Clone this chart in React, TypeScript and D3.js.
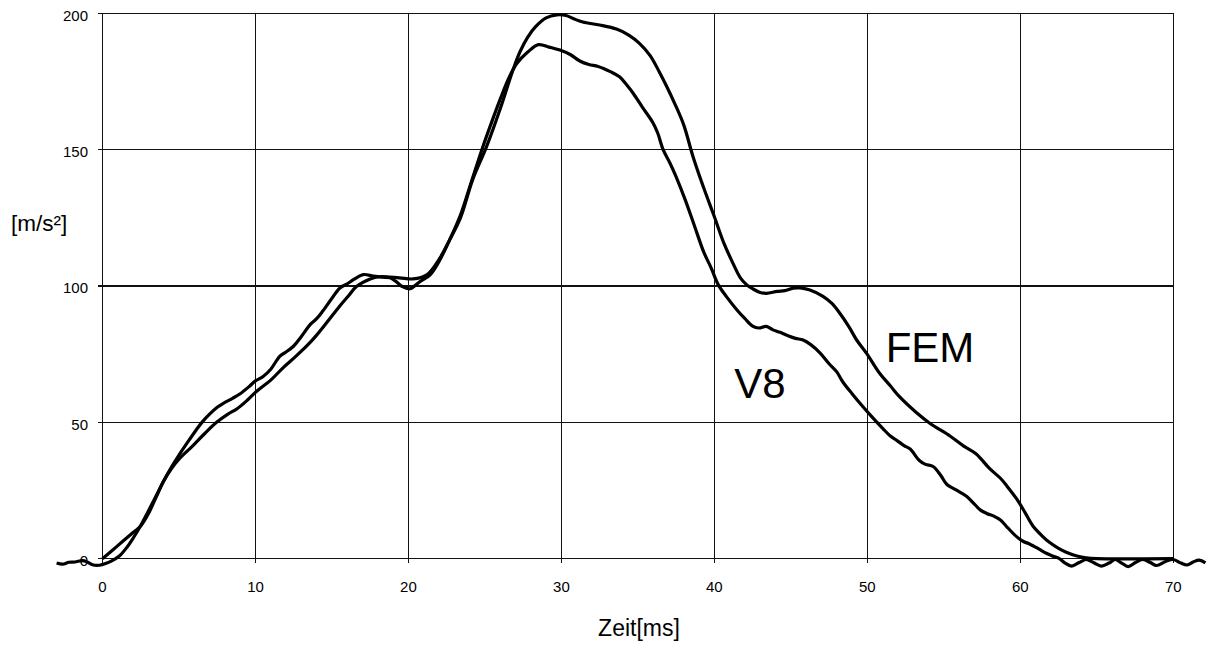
import React from "react";
import * as d3 from "d3";

// Time axis ticks [ms] and acceleration ticks [m/s²]
const xTicks = [0, 10, 20, 30, 40, 50, 60, 70];
const yTicks = [0, 50, 100, 150, 200];

// Measured acceleration (V8): [time ms, acceleration m/s²]
const v8Series: [number, number][] = [
  [-3.0, -1.6], [-2.6, -2.0], [-2.2, -1.3], [-1.8, -1.2], [-1.3, -0.7], [-1.0, -1.2],
  [-0.6, -2.3], [-0.2, -2.4], [0.2, -1.8], [0.6, -0.8], [1.1, 1.0], [1.6, 4.2],
  [2.0, 7.5], [2.5, 12.2], [3.0, 17.5], [3.5, 23], [4.0, 28.5], [4.5, 33.5],
  [5.0, 38], [5.7, 43.8], [6.1, 47], [6.5, 50], [7.0, 53], [7.5, 55.5], [7.9, 57],
  [8.5, 58.8], [9.0, 60.5], [9.6, 63.2], [10.0, 65.2], [10.5, 66.8], [11.0, 69.5],
  [11.6, 74.3], [12.0, 75.8], [12.5, 78], [13.0, 81.5], [13.6, 86], [14.0, 88],
  [14.4, 90.8], [15.0, 95.5], [15.5, 99.2], [16.0, 100.8], [16.4, 102.3],
  [17.05, 104.2], [17.7, 103.6], [18.3, 103.2], [18.8, 103], [19.2, 101.6],
  [19.6, 99.8], [20.1, 99], [20.75, 101.6], [21.4, 104], [22.0, 109], [22.7, 117],
  [23.4, 126], [24.1, 138], [24.8, 150], [25.5, 161], [26.0, 168.5], [26.5, 175.5],
  [27.07, 181.5], [27.8, 185.8], [28.5, 188.5], [29.2, 187.6], [29.9, 186.5],
  [30.6, 184.8], [31.2, 182.5], [31.8, 181.2], [32.4, 180.5], [33.2, 178.6],
  [33.8, 176.7], [34.3, 173.5], [34.7, 170.6], [35.3, 165.5], [36.0, 159.7],
  [36.3, 156], [36.65, 150], [37.1, 145], [37.5, 140], [38.1, 131.5], [38.7, 122],
  [39.3, 112.5], [39.8, 106.5], [40.25, 100.5], [40.8, 96], [41.45, 91.4], [42.0, 88],
  [42.5, 85.3], [42.9, 84.6], [43.4, 85.2], [43.8, 84], [44.3, 83], [44.8, 81.8],
  [45.3, 80.8], [45.8, 80.2], [46.3, 78.5], [46.9, 75.5], [47.5, 71.5], [48.0, 68.5],
  [48.4, 64.8], [49.0, 60.5], [49.7, 55.8], [50.3, 52], [51.0, 47.8], [51.5, 45],
  [51.9, 43.5], [52.4, 41.5], [52.8, 40.2], [53.4, 36], [53.8, 34.6], [54.3, 33.8],
  [54.8, 30.5], [55.2, 27.2], [55.8, 25.2], [56.5, 22.8], [57.0, 20], [57.4, 17.8],
  [57.8, 16.6], [58.3, 15.5], [58.7, 14.2], [59.2, 11.2], [59.75, 8.1], [60.2, 6.3],
  [60.6, 5.4], [61.2, 3.6], [61.7, 2.0], [62.1, 1.0], [62.5, 0.2], [62.9, -1.5],
  [63.35, -2.7], [63.85, -1.4], [64.3, -0.3], [64.8, -1.5], [65.3, -2.7], [65.8, -1.6],
  [66.2, -0.3], [66.6, -1.5], [67.05, -2.9], [67.5, -1.5], [68.0, -0.3], [68.5, -1.4],
  [68.9, -2.5], [69.5, -1.0], [70.0, -0.3], [70.5, -1.6], [70.9, -2.3], [71.3, -1.2],
  [71.7, -0.5], [72.1, -1.5],
];

// Simulated acceleration (FEM): [time ms, acceleration m/s²]
const femSeries: [number, number][] = [
  [0, 0], [1, 4.8], [2, 9.6], [2.5, 12], [3, 16.5], [3.5, 22.5], [4, 28.5],
  [4.5, 33], [5, 36.5], [5.9, 41.4], [6.7, 46], [7.46, 50], [8.2, 53], [8.8, 55],
  [9.5, 58.3], [10.1, 61.5], [11, 65.5], [11.8, 70], [12.6, 74], [13.35, 78],
  [14, 82], [14.65, 86.5], [15.5, 92.6], [16.1, 96.5], [16.6, 99.8], [17.5, 102.6],
  [18.1, 103.4], [19.4, 103], [20.3, 102.6], [21.2, 104.1], [22.06, 110.3],
  [22.7, 117], [23.4, 125], [24.2, 139], [25.1, 151], [26, 165], [26.85, 179.5],
  [27.3, 186], [27.8, 191.3], [28.3, 195], [29.0, 198.3], [29.7, 199.4], [30.3, 199.2],
  [30.8, 198], [31.4, 196.8], [32.5, 195.7], [33.6, 194.2], [34.4, 192], [35.1, 189],
  [35.8, 184.5], [36.4, 178.5], [36.9, 173], [37.4, 167], [38.0, 159], [38.6, 147.5],
  [39.3, 136], [40.0, 125.4], [40.6, 116], [41.2, 108.5], [41.7, 103], [42.1, 100.5],
  [42.5, 99], [43.0, 97.6], [43.4, 97.3], [44.1, 98], [44.6, 98.3], [45.15, 99.2],
  [45.6, 99.3], [46.2, 98.6], [47.1, 96.2], [47.7, 93.5], [48.2, 90], [48.8, 85],
  [49.3, 80.2], [49.95, 75.3], [50.8, 68], [51.5, 63.4], [52.1, 59.4], [53.2, 53.6],
  [54.1, 49.6], [55.4, 45], [56.3, 41.3], [57.1, 38.5], [58.0, 33], [58.7, 29.5],
  [59.1, 26.8], [59.75, 22], [60.3, 17], [60.8, 12.2], [61.4, 8.5], [61.9, 6],
  [62.5, 3.8], [63, 2.4], [63.7, 1], [64.3, 0.3], [65, 0], [70, 0],
];

// Curve labels: [text, time ms, acceleration m/s²] (baseline, left edge)
const curveLabels: [string, number, number][] = [
  ["FEM", 51.2, 72.2],
  ["V8", 41.3, 58.8],
];

const W = 1208;
const H = 646;
const FONT = "'Liberation Sans', Arial, Helvetica, sans-serif";

export default function App() {
  const x = d3.scaleLinear().domain([0, 70]).range([102.5, 1173.3]);
  const y = d3.scaleLinear().domain([0, 200]).range([558.7, 13.3]);

  const line = d3
    .line<[number, number]>()
    .x((d) => x(d[0]))
    .y((d) => y(d[1]))
    .curve(d3.curveCatmullRom.alpha(0.5));

  const [x0, x1] = x.range();
  const [y0, y1] = y.range();

  return (
    <svg
      width={W}
      height={H}
      viewBox={`0 0 ${W} ${H}`}
      style={{ position: "absolute", left: 0, top: 0, background: "#fff" }}
    >
      <rect width={W} height={H} fill="#fff" />
      {/* grid */}
      <g stroke="#111" strokeWidth={1.3} shapeRendering="crispEdges">
        {yTicks.map((t) => (
          <line key={`gy${t}`} x1={x0 - 5} x2={x1} y1={y(t)} y2={y(t)} />
        ))}
        {xTicks.map((t) => (
          <line key={`gx${t}`} x1={x(t)} x2={x(t)} y1={y1} y2={y0 + 4} />
        ))}
      </g>
      {/* tick labels */}
      <g fontFamily={FONT} fontSize={15} fill="#000">
        {yTicks.map((t) => (
          <text key={`ly${t}`} x={88} y={y(t) + 7.3} textAnchor="end">
            {t}
          </text>
        ))}
        {xTicks.map((t) => (
          <text key={`lx${t}`} x={x(t)} y={591.5} textAnchor="middle">
            {t}
          </text>
        ))}
      </g>
      {/* axis titles */}
      <text x={11} y={231} fontFamily={FONT} fontSize={22.5} fill="#000">
        [m/s²]
      </text>
      <text x={639} y={636} fontFamily={FONT} fontSize={23} textAnchor="middle" fill="#000">
        Zeit[ms]
      </text>
      {/* curves */}
      <path d={line(femSeries) ?? ""} fill="none" stroke="#000" strokeWidth={3.2} strokeLinejoin="round" />
      <path d={line(v8Series) ?? ""} fill="none" stroke="#000" strokeWidth={3.2} strokeLinejoin="round" />
      {/* curve labels */}
      {curveLabels.map(([label, t, v]) => (
        <text key={label} x={x(t)} y={y(v)} fontFamily={FONT} fontSize={42} fill="#000">
          {label}
        </text>
      ))}
    </svg>
  );
}
